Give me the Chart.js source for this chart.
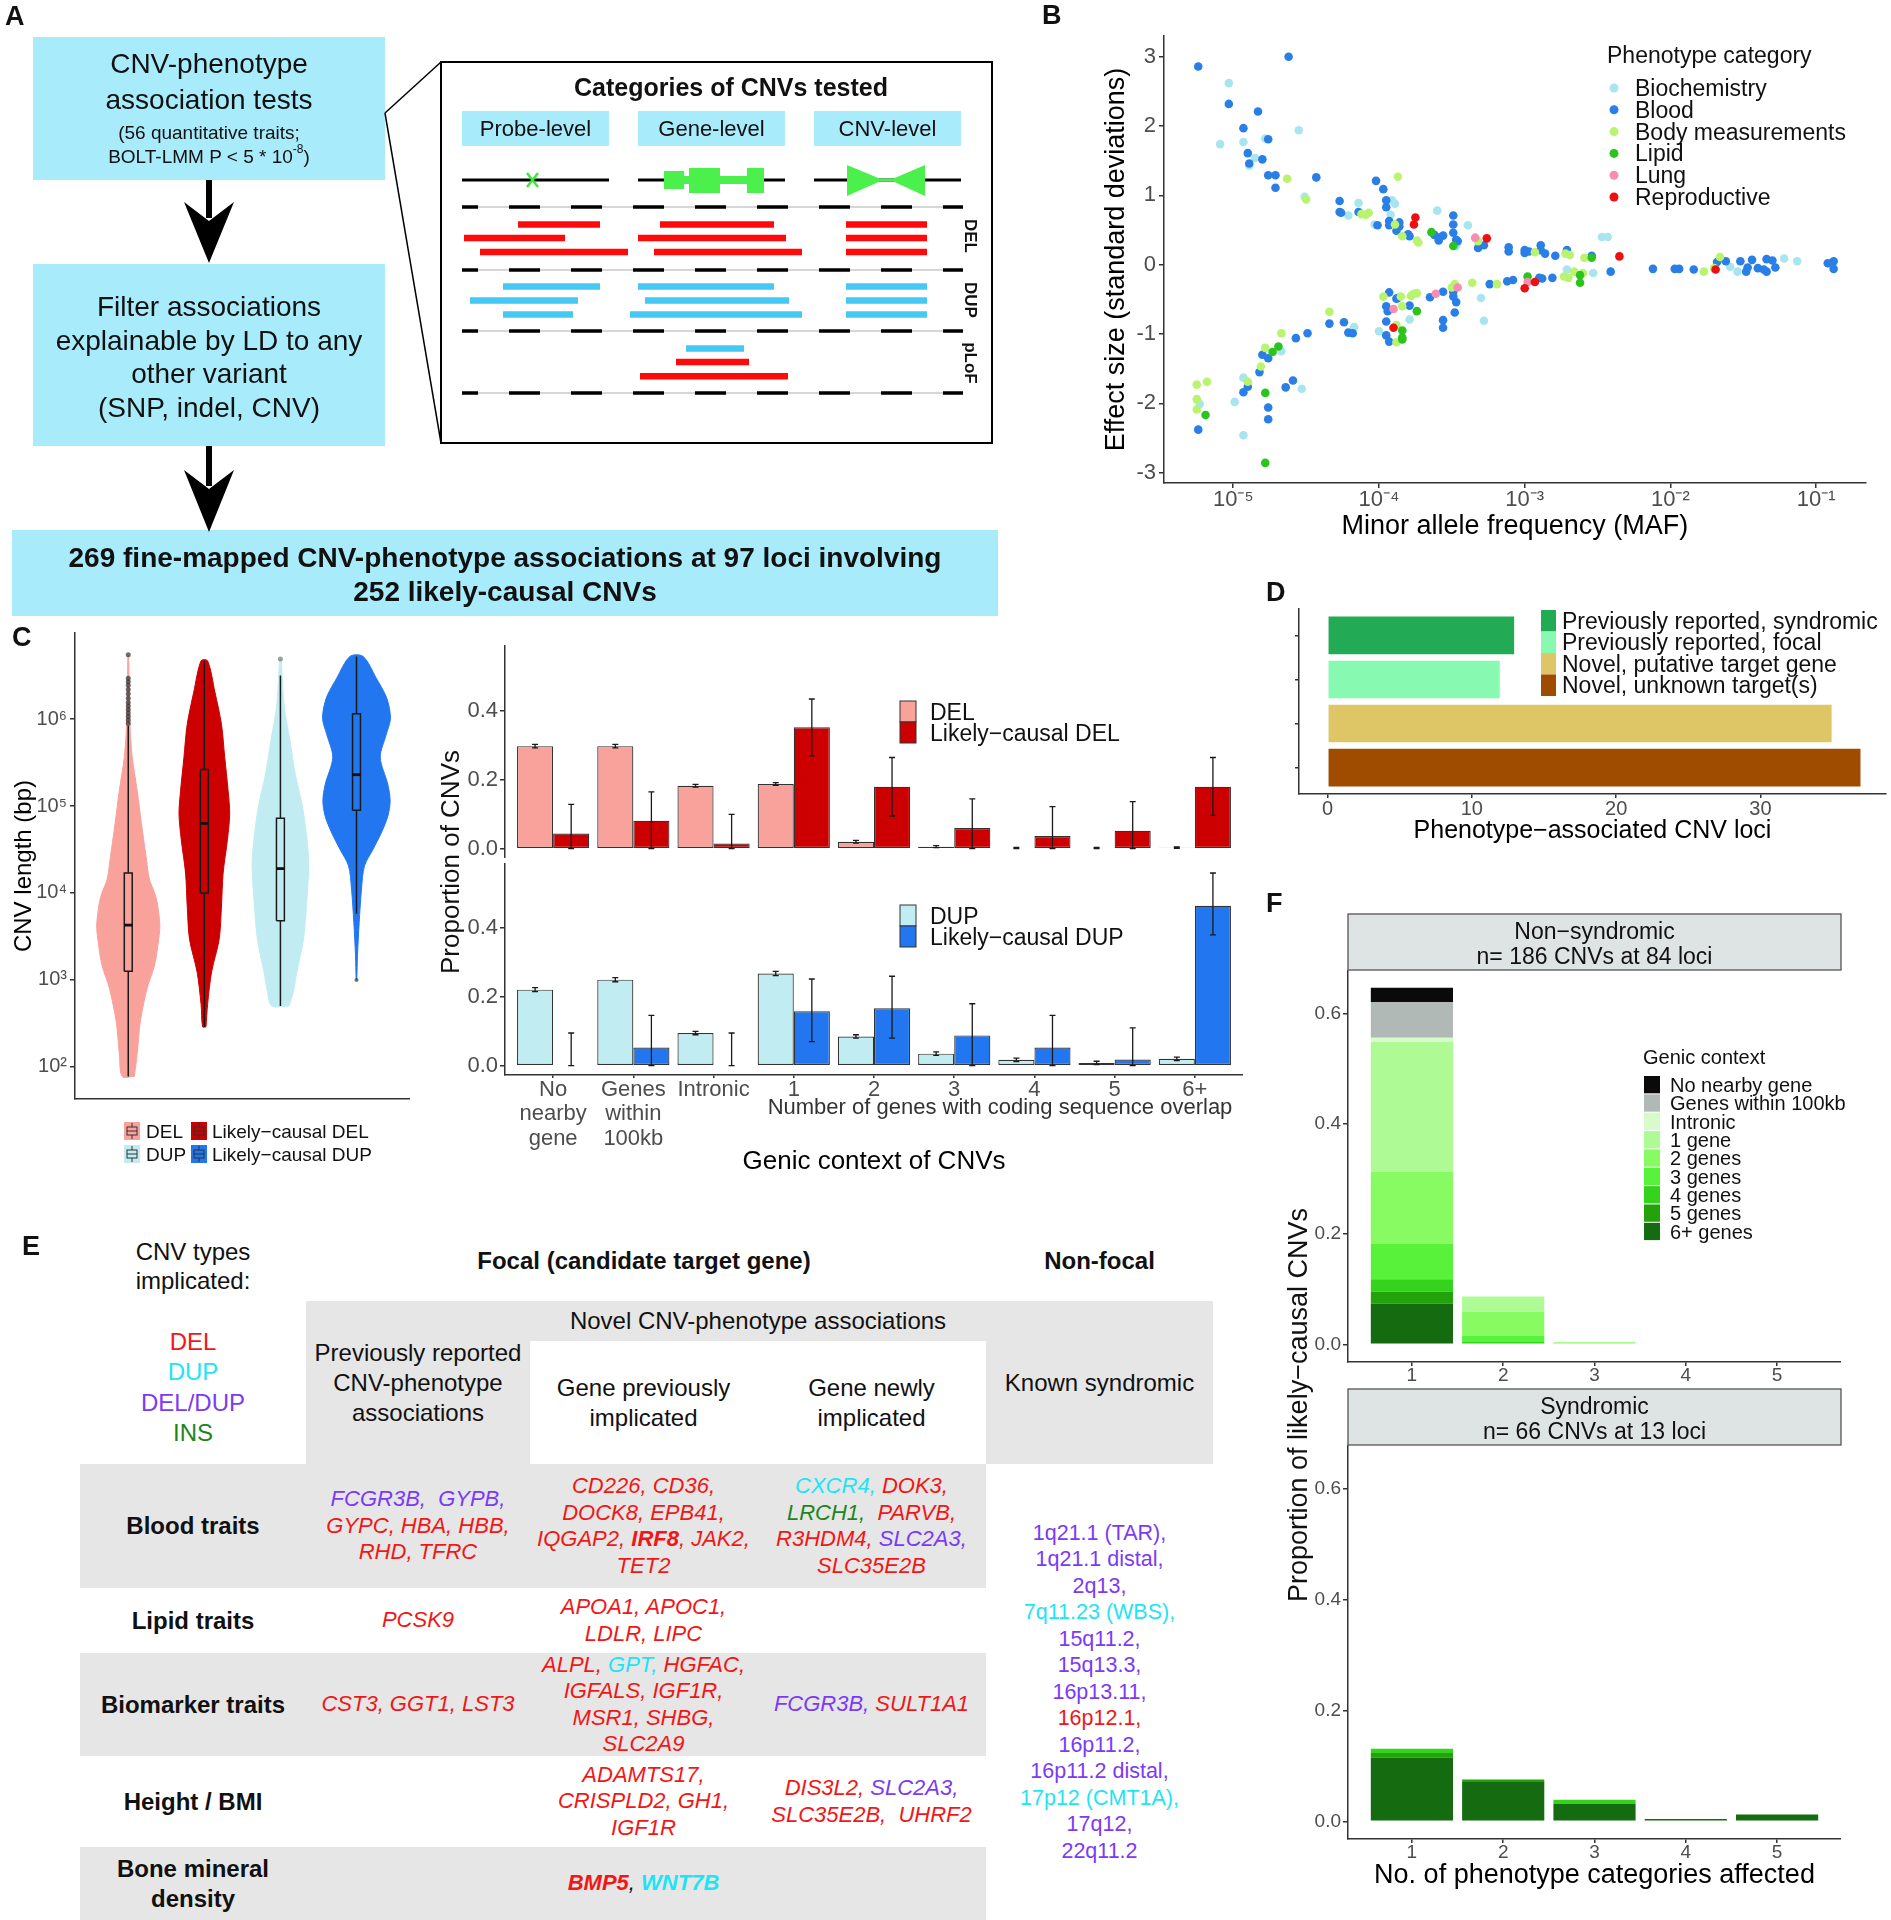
<!DOCTYPE html>
<html lang="en">
<head>
<meta charset="UTF-8">
<title>Fine-mapped CNV-phenotype associations</title>
<script src="https://cdn.jsdelivr.net/npm/chart.js"></script>
<style>
  body { margin: 0; background: #fff; }
  #page { position: relative; width: 1891px; height: 1920px; overflow: hidden;
          font-family: 'Liberation Sans', Arial, Helvetica, sans-serif; color: #111; }
  #page canvas { position: absolute; }
  #overlay { position: absolute; left: 0; top: 0; z-index: 2; }
  .cell { position: absolute; display: flex; align-items: center; justify-content: center;
          text-align: center; white-space: nowrap; }
  .g { background: #E6E6E6; }
  .hdr { font-size: 24px; line-height: 30px; }
  .b { font-weight: bold; }
  .gene { font-size: 22px; line-height: 26.5px; font-style: italic; }
  .syn { font-size: 21.5px; line-height: 26.5px; }
  .del { color: #F21616; } .dup { color: #1EE4F4; } .dd { color: #7B3AF5; } .ins { color: #1C861C; }
</style>
</head>
<body>
<div id="page">
  <!-- panel E table -->
  <div class="cell g" style="left:306px;top:1301px;width:907px;height:40px"></div>
  <div class="cell g" style="left:306px;top:1341px;width:224px;height:123px"></div>
  <div class="cell g" style="left:986px;top:1341px;width:227px;height:123px"></div>
  <div class="cell g" style="left:80px;top:1464px;width:906px;height:124px"></div>
  <div class="cell g" style="left:80px;top:1653px;width:906px;height:103px"></div>
  <div class="cell g" style="left:80px;top:1847px;width:906px;height:73px"></div>

  <div class="cell hdr" style="left:80px;top:1236px;width:226px;height:60px;line-height:29px">CNV types<br>implicated:</div>
  <div class="cell hdr" style="left:80px;top:1327px;width:226px;height:121px;line-height:30.3px"><span><span class="del">DEL</span><br><span class="dup">DUP</span><br><span class="dd">DEL/DUP</span><br><span class="ins">INS</span></span></div>
  <div class="cell hdr b" style="left:344px;top:1241px;width:600px;height:40px">Focal (candidate target gene)</div>
  <div class="cell hdr b" style="left:986px;top:1241px;width:227px;height:40px">Non-focal</div>
  <div class="cell hdr" style="left:306px;top:1301px;width:224px;height:163px">Previously reported<br>CNV-phenotype<br>associations</div>
  <div class="cell hdr" style="left:530px;top:1301px;width:456px;height:40px">Novel CNV-phenotype associations</div>
  <div class="cell hdr" style="left:530px;top:1341px;width:227px;height:123px">Gene previously<br>implicated</div>
  <div class="cell hdr" style="left:757px;top:1341px;width:229px;height:123px">Gene newly<br>implicated</div>
  <div class="cell hdr" style="left:986px;top:1301px;width:227px;height:163px">Known syndromic</div>

  <div class="cell hdr b" style="left:80px;top:1464px;width:226px;height:124px">Blood traits</div>
  <div class="cell gene" style="left:306px;top:1464px;width:224px;height:124px"><span><span class="dd">FCGR3B,&nbsp; GYPB,</span><br><span class="del">GYPC, HBA, HBB,<br>RHD, TFRC</span></span></div>
  <div class="cell gene" style="left:530px;top:1464px;width:227px;height:124px"><span class="del">CD226, CD36,<br>DOCK8, EPB41,<br>IQGAP2, <b>IRF8</b>, JAK2,<br>TET2</span></div>
  <div class="cell gene" style="left:757px;top:1464px;width:229px;height:124px"><span><span class="dup">CXCR4,</span> <span class="del">DOK3,</span><br><span class="ins">LRCH1,</span>&nbsp; <span class="del">PARVB,</span><br><span class="del">R3HDM4,</span> <span class="dd">SLC2A3,</span><br><span class="del">SLC35E2B</span></span></div>

  <div class="cell hdr b" style="left:80px;top:1588px;width:226px;height:65px">Lipid traits</div>
  <div class="cell gene" style="left:306px;top:1588px;width:224px;height:65px"><span class="del">PCSK9</span></div>
  <div class="cell gene" style="left:530px;top:1588px;width:227px;height:65px"><span class="del">APOA1, APOC1,<br>LDLR, LIPC</span></div>

  <div class="cell hdr b" style="left:80px;top:1653px;width:226px;height:103px">Biomarker traits</div>
  <div class="cell gene" style="left:306px;top:1653px;width:224px;height:103px"><span class="del">CST3, GGT1, LST3</span></div>
  <div class="cell gene" style="left:530px;top:1653px;width:227px;height:103px"><span><span class="del">ALPL,</span> <span class="dup">GPT,</span> <span class="del">HGFAC,<br>IGFALS, IGF1R,<br>MSR1, SHBG,<br>SLC2A9</span></span></div>
  <div class="cell gene" style="left:757px;top:1653px;width:229px;height:103px"><span><span class="dd">FCGR3B,</span> <span class="del">SULT1A1</span></span></div>

  <div class="cell hdr b" style="left:80px;top:1756px;width:226px;height:91px">Height / BMI</div>
  <div class="cell gene" style="left:530px;top:1756px;width:227px;height:91px"><span class="del">ADAMTS17,<br>CRISPLD2, GH1,<br>IGF1R</span></div>
  <div class="cell gene" style="left:757px;top:1756px;width:229px;height:91px"><span><span class="del">DIS3L2,</span> <span class="dd">SLC2A3,</span><br><span class="del">SLC35E2B,&nbsp; UHRF2</span></span></div>

  <div class="cell hdr b" style="left:80px;top:1847px;width:226px;height:73px">Bone mineral<br>density</div>
  <div class="cell gene" style="left:530px;top:1847px;width:227px;height:73px"><span><b class="del">BMP5</b>, <b class="dup">WNT7B</b></span></div>

  <div class="cell syn" style="left:986px;top:1464px;width:227px;height:456px"><span>
    <span class="dd">1q21.1 (TAR),</span><br><span class="dd">1q21.1 distal,</span><br><span class="dd">2q13,</span><br>
    <span class="dup">7q11.23 (WBS),</span><br><span class="dd">15q11.2,</span><br><span class="dd">15q13.3,</span><br>
    <span class="dd">16p13.11,</span><br><span class="del">16p12.1,</span><br><span class="dd">16p11.2,</span><br>
    <span class="dd">16p11.2 distal,</span><br><span class="dup">17p12 (CMT1A),</span><br><span class="dd">17q12,</span><br>
    <span class="dd">22q11.2</span></span></div>

  <canvas id="chartB" width="772" height="517" style="left:1098px;top:26px"></canvas>
  <canvas id="chartViolin" width="413" height="480" style="left:0px;top:623px"></canvas>
  <canvas id="chartDel" width="813" height="222" style="left:430px;top:636px"></canvas>
  <canvas id="chartDup" width="813" height="314" style="left:430px;top:863px"></canvas>
  <canvas id="chartD" width="604" height="246" style="left:1285px;top:600px"></canvas>
  <canvas id="chartF1" width="541" height="423" style="left:1300px;top:970px"></canvas>
  <canvas id="chartF2" width="541" height="447" style="left:1300px;top:1445px"></canvas>

  <svg id="overlay" width="1891" height="1920" font-family="'Liberation Sans', Arial, Helvetica, sans-serif">
    <!-- panel A -->
    <rect x="33" y="37" width="352" height="143" fill="#A8EBFB"/>
    <rect x="33" y="264" width="352" height="182" fill="#A8EBFB"/>
    <rect x="12" y="530" width="986" height="86" fill="#A8EBFB"/>
    <g text-anchor="middle" dominant-baseline="central" fill="#111">
      <text x="209" y="63" font-size="28">CNV-phenotype</text>
      <text x="209" y="99" font-size="28">association tests</text>
      <text x="209" y="132" font-size="19">(56 quantitative traits;</text>
      <text x="209" y="156" font-size="19">BOLT-LMM P &lt; 5 * 10<tspan font-size="12" dy="-7">-8</tspan><tspan dy="7">)</tspan></text>
      <text x="209" y="306" font-size="28">Filter associations</text>
      <text x="209" y="340" font-size="28">explainable by LD to any</text>
      <text x="209" y="373" font-size="28">other variant</text>
      <text x="209" y="407" font-size="28">(SNP, indel, CNV)</text>
      <text x="505" y="557" font-size="28" font-weight="bold">269 fine-mapped CNV-phenotype associations at 97 loci involving</text>
      <text x="505" y="591" font-size="28" font-weight="bold">252 likely-causal CNVs</text>
    </g>
    <line x1="209" y1="180" x2="209" y2="218" stroke="#000" stroke-width="6"/>
    <polygon points="209,263 184,202 209,221 234,202" fill="#000"/>
    <line x1="209" y1="446" x2="209" y2="486" stroke="#000" stroke-width="6"/>
    <polygon points="209,532 184,470 209,489 234,470" fill="#000"/>
    <rect x="441" y="62" width="551" height="381" fill="#fff" stroke="#000" stroke-width="2"/>
    <line x1="385" y1="113" x2="441" y2="62" stroke="#000" stroke-width="1.5"/>
    <line x1="385" y1="113" x2="441" y2="443" stroke="#000" stroke-width="1.5"/>
    <g id="insetA"></g>
  </svg>
</div>

<script>
// ---------- panel B: effect size vs MAF ----------
const phenoCats = ['Biochemistry', 'Blood', 'Body measurements', 'Lipid', 'Lung', 'Reproductive'];
const phenoColors = ['#A9E5EF', '#2A7FE6', '#B8F46E', '#2BC41F', '#F78CB4', '#EE1010'];
// [log10 MAF, effect size in SD]
const biochemistry = [[-5.03,2.62],[-4.55,1.94],[-5.09,1.74],[-4.93,1.77],[-4.78,1.82],[-4.85,1.54],[-4.89,1.43],
  [-4.51,0.98],[-4.21,0.71],[-4.14,0.89],[-4.03,0.58],[-3.91,0.93],[-3.89,0.88],[-3.92,0.72],[-3.60,0.78],[-3.39,0.57],
  [-2.47,0.40],[-2.43,0.40],[-2.53,-0.12],[-1.59,-0.03],[-1.54,-0.10],[-1.22,0.09],[-1.13,0.05],[-2.71,-0.07],
  [-3.30,-0.48],[-3.28,-0.81],[-3.79,-0.79],[-4.00,-0.96],[-4.17,-0.90],[-4.67,-1.25],[-4.93,-1.63],[-5.23,-2.01],
  [-4.99,-1.98],[-4.93,-2.46],[-4.53,-1.79],[-3.47,0.27]];
const blood = [[-5.24,2.86],[-4.62,3.00],[-5.03,2.32],[-4.83,2.21],[-4.93,1.97],[-4.76,1.81],[-4.90,1.61],[-4.89,1.46],
  [-4.80,1.52],[-4.76,1.29],[-4.71,1.29],[-4.71,1.11],[-4.43,1.26],[-4.27,0.92],[-4.27,0.76],[-4.26,0.75],[-4.14,0.76],
  [-4.01,0.57],[-4.02,1.21],[-3.97,1.09],[-3.95,0.93],[-3.95,0.83],[-3.93,0.63],[-3.93,0.57],[-3.86,0.61],[-3.86,0.55],
  [-3.88,0.49],[-3.80,0.44],[-3.79,0.41],[-3.62,0.43],[-3.59,0.39],[-3.56,0.42],[-3.59,0.35],[-3.49,0.71],[-3.49,0.58],
  [-3.49,0.46],[-3.47,0.36],[-3.46,0.34],[-3.28,0.28],[-3.32,0.24],[-3.11,0.25],[-3.11,0.19],[-3.00,0.21],[-3.00,0.17],
  [-2.97,0.19],[-2.89,0.28],[-2.89,0.21],[-2.86,0.16],[-2.79,0.13],[-2.71,0.21],[-2.54,0.13],
  [-2.41,-0.10],[-2.12,-0.06],[-1.97,-0.06],[-1.94,-0.06],[-1.84,-0.07],[-1.68,0.04],[-1.62,0.05],[-1.52,0.05],
  [-1.48,-0.10],[-1.47,-0.04],[-1.44,0.07],[-1.34,0.08],[-1.34,-0.10],[-1.30,0.06],[-1.28,-0.04],[-0.92,0.02],
  [-0.88,0.05],[-0.88,-0.06],[-1.40,-0.05],[-1.36,-0.07],
  [-2.81,-0.19],[-2.90,-0.19],[-2.88,-0.20],[-3.08,-0.22],[-3.12,-0.24],[-3.24,-0.28],[-3.49,-0.39],[-3.49,-0.46],
  [-3.47,-0.54],[-3.48,-0.69],[-3.56,-0.39],[-3.56,-0.80],[-3.56,-0.91],[-3.65,-0.47],[-3.79,-0.59],[-3.87,-0.48],
  [-3.88,-0.49],[-3.93,-0.40],[-3.95,-0.60],[-3.94,-0.67],[-3.95,-0.82],[-3.95,-1.02],[-3.93,-1.11],[-4.21,-0.98],
  [-4.18,-0.99],[-4.24,-0.83],[-4.34,-0.85],[-4.49,-0.99],[-4.57,-1.06],[-4.80,-1.30],[-4.76,-1.35],[-4.82,-1.55],
  [-4.90,-1.76],[-4.93,-1.84],[-5.24,-2.38],[-4.76,-2.06],[-4.76,-2.23],[-4.64,-1.77],[-4.59,-1.67]];
const bodyMeasurements = [[-4.63,1.24],[-4.50,0.94],[-4.12,0.73],[-4.07,0.75],[-4.09,0.72],[-3.87,1.27],[-3.89,0.58],
  [-3.84,0.41],[-3.74,0.35],[-3.73,0.32],[-3.32,0.34],[-2.93,0.18],[-2.72,0.16],[-2.69,0.14],[-2.59,0.10],[-1.66,0.11],
  [-1.77,-0.10],[-2.60,-0.12],[-2.66,-0.10],[-2.70,-0.19],[-2.73,-0.17],[-3.19,-0.28],[-3.36,-0.26],[-3.48,-0.28],
  [-3.50,-0.33],[-3.74,-0.41],[-3.76,-0.42],[-3.78,-0.45],[-3.85,-0.46],[-3.84,-0.60],[-3.97,-0.46],[-3.88,-0.87],
  [-3.88,-1.12],[-4.34,-0.68],[-4.67,-0.99],[-4.78,-1.20],[-4.81,-1.47],[-4.90,-1.69],[-5.18,-1.69],[-5.25,-1.73],
  [-5.25,-1.94],[-5.25,-2.09],[-1.70,-0.05]];
const lipid = [[-3.64,0.47],[-3.49,0.27],[-2.54,0.10],[-2.62,-0.15],[-2.62,-0.26],[-2.98,-0.17],[-3.74,-0.67],
  [-3.84,-0.95],[-3.84,-1.05],[-3.84,-1.08],[-4.69,-1.18],[-4.73,-1.26],[-5.19,-2.17],[-4.78,-1.85],[-4.78,-2.86]];
const lung = [[-3.34,0.39],[-2.98,-0.25],[-3.46,-0.33],[-3.61,-0.42],[-3.90,-0.64]];
const reproductive = [[-3.76,0.58],[-3.75,0.68],[-3.26,0.38],[-2.35,0.12],[-1.69,-0.07],[-2.93,-0.25],[-3.00,-0.34],[-3.90,-0.91]];
const effectTicks = [-3, -2, -1, 0, 1, 2, 3];
const mafTicks = [1e-5, 1e-4, 1e-3, 1e-2, 1e-1];

// ---------- panel C: CNV length violins (log10 bp) ----------
const violinGroups = ['DEL', 'Likely\u2212causal DEL', 'DUP', 'Likely\u2212causal DUP'];
const violinColors = ['#F9A19B', '#CC0000', '#C1EDF2', '#2277F0'];
const delLevels = [1.89, 2.15, 2.53, 2.91, 3.17, 3.47, 3.63, 3.89, 4.0, 4.16, 4.42, 4.8, 5.18, 5.56, 5.94, 6.5, 6.73];
const delWidths = [0.08, 0.117, 0.16, 0.25, 0.346, 0.4, 0.415, 0.38, 0.346, 0.277, 0.234, 0.173, 0.117, 0.052, 0.022, 0.009, 0.004];
const lcDelLevels = [2.46, 2.72, 3.09, 3.47, 3.85, 4.23, 4.61, 4.91, 5.18, 5.56, 5.94, 6.31, 6.67];
const lcDelWidths = [0.022, 0.043, 0.095, 0.195, 0.225, 0.247, 0.303, 0.333, 0.312, 0.268, 0.225, 0.139, 0.043];
const dupLevels = [2.70, 2.87, 3.09, 3.47, 3.85, 4.31, 4.61, 4.99, 5.37, 5.75, 6.13, 6.50, 6.69];
const dupWidths = [0.113, 0.173, 0.216, 0.303, 0.342, 0.372, 0.35, 0.29, 0.195, 0.126, 0.052, 0.022, 0.009];
const lcDupLevels = [3.0, 3.28, 3.66, 4.04, 4.31, 4.5, 4.69, 4.88, 5.06, 5.25, 5.56, 5.82, 6.01, 6.24, 6.47, 6.72];
const lcDupWidths = [0.004, 0.013, 0.035, 0.065, 0.104, 0.216, 0.325, 0.411, 0.442, 0.411, 0.312, 0.39, 0.446, 0.398, 0.26, 0.087];
const boxQ1 = [3.10, 4.00, 3.68, 4.95];
const boxMed = [3.63, 4.80, 4.28, 5.36];
const boxQ3 = [4.23, 5.42, 4.86, 6.06];
const whiskLo = [1.89, 2.46, 2.70, 3.76];
const whiskHi = [5.92, 6.67, 6.50, 6.72];
const delOutliers = [5.95, 5.99, 6.03, 6.07, 6.11, 6.15, 6.19, 6.24, 6.29, 6.34, 6.39, 6.43, 6.47, 6.74];
const dupOutliers = [6.69];
const lcDupOutliers = [3.0];
const lengthTicks = [2, 3, 4, 5, 6];

// ---------- panel C: genic context proportions ----------
const contextLabels = [['No', 'nearby', 'gene'], ['Genes', 'within', '100kb'], ['Intronic'], ['1'], ['2'], ['3'], ['4'], ['5'], ['6+']];
const delAll = [0.298, 0.298, 0.183, 0.188, 0.020, 0.006, 0.002, 0.002, 0.003];
const delAllErr = [0.005, 0.005, 0.004, 0.004, 0.004, 0.003, 0.002, 0.002, 0.002];
const delCausal = [0.044, 0.081, 0.015, 0.353, 0.180, 0.060, 0.037, 0.052, 0.180];
const delCausalLo = [0, 0, 0, 0.270, 0.095, 0, 0, 0, 0.097];
const delCausalHi = [0.129, 0.165, 0.100, 0.435, 0.265, 0.145, 0.122, 0.137, 0.265];
const dupAll = [0.221, 0.250, 0.095, 0.268, 0.085, 0.035, 0.017, 0.008, 0.020];
const dupAllErr = [0.006, 0.006, 0.005, 0.006, 0.005, 0.005, 0.005, 0.005, 0.005];
const dupCausal = [0, 0.053, 0, 0.158, 0.167, 0.088, 0.053, 0.018, 0.465];
const dupCausalLo = [0, 0, 0, 0.070, 0.080, 0, 0, 0, 0.380];
const dupCausalHi = [0.095, 0.146, 0.095, 0.252, 0.260, 0.180, 0.146, 0.110, 0.560];
const propTicks = [0, 0.2, 0.4];

// ---------- panel D ----------
const lociClasses = ['Previously reported, syndromic', 'Previously reported, focal', 'Novel, putative target gene', 'Novel, unknown target(s)'];
const lociCounts = [13, 12, 35, 37];
const lociColors = ['#22AA55', '#88F9B1', '#DEC566', '#A04C00'];
const lociTicks = [0, 10, 20, 30];

// ---------- panel F ----------
const genicContexts = ['No nearby gene', 'Genes within 100kb', 'Intronic', '1 gene', '2 genes', '3 genes', '4 genes', '5 genes', '6+ genes'];
const genicColors = ['#0A0A0A', '#B1B9B7', '#D7FBCB', '#AEFB95', '#88FB62', '#58F23A', '#34D41C', '#22A30C', '#156B0F'];
const nCategories = [1, 2, 3, 4, 5];
const nonSyndromic = [
  [0.026, 0, 0, 0, 0],
  [0.065, 0, 0, 0, 0],
  [0.007, 0, 0, 0, 0],
  [0.236, 0.028, 0, 0, 0],
  [0.130, 0.044, 0.004, 0, 0],
  [0.065, 0.010, 0, 0, 0],
  [0.022, 0.005, 0, 0, 0],
  [0.022, 0, 0, 0, 0],
  [0.074, 0, 0, 0, 0]
];
const syndromic = [
  [0, 0, 0, 0, 0],
  [0, 0, 0, 0, 0],
  [0, 0, 0, 0, 0],
  [0, 0, 0, 0, 0],
  [0, 0, 0, 0, 0],
  [0, 0, 0, 0, 0],
  [0.008, 0, 0.008, 0, 0],
  [0.008, 0.0035, 0, 0, 0],
  [0.115, 0.072, 0.031, 0.004, 0.012]
];
const fTicks = [0, 0.2, 0.4, 0.6];

// ---------- shared helpers ----------
const FONT = "'Liberation Sans', Arial, Helvetica, sans-serif";
const GRAY = '#4D4D4D', AXIS = '#333333';
Chart.defaults.font.family = FONT;
Chart.defaults.color = GRAY;
Chart.defaults.animation = false;
Chart.defaults.events = [];
Chart.defaults.plugins.legend.display = false;
Chart.defaults.plugins.tooltip.enabled = false;

function fixTicks(values) { return s => { s.ticks = values.map(v => ({value: v})); }; }
function fitTo(size) {
  return s => {
    if (s.isHorizontal()) s.height = size; else s.width = size;
    s.paddingLeft = s.paddingRight = s.paddingTop = s.paddingBottom = 0;
  };
}
function axis(opts) {
  return Object.assign({
    border: {color: AXIS, width: 1.5},
    grid: {drawOnChartArea: false, color: AXIS, lineWidth: 1.5, tickLength: 5}
  }, opts);
}
const SUP = {'-': '\u207B', '0': '\u2070', '1': '\u00B9', '2': '\u00B2', '3': '\u00B3', '4': '\u2074',
  '5': '\u2075', '6': '\u2076', '7': '\u2077', '8': '\u2078', '9': '\u2079'};
const pow10 = e => '10' + String(e).split('').map(c => SUP[c]).join('');
const base = {responsive: false, devicePixelRatio: 1, maintainAspectRatio: false};

const errorBars = {
  id: 'errorBars',
  afterDatasetsDraw(chart) {
    const {ctx} = chart, y = chart.scales.y;
    chart.data.datasets.forEach((ds, i) => {
      if (!ds.errLo) return;
      const meta = chart.getDatasetMeta(i);
      ctx.save();
      ctx.strokeStyle = '#1a1a1a';
      ctx.lineWidth = 1.3;
      meta.data.forEach((bar, j) => {
        const y1 = y.getPixelForValue(ds.errLo[j]), y2 = y.getPixelForValue(ds.errHi[j]);
        ctx.beginPath();
        ctx.moveTo(bar.x, y1); ctx.lineTo(bar.x, y2);
        ctx.moveTo(bar.x - 3, y1); ctx.lineTo(bar.x + 3, y1);
        ctx.moveTo(bar.x - 3, y2); ctx.lineTo(bar.x + 3, y2);
        ctx.stroke();
      });
      ctx.restore();
    });
  }
};

// ---------- chart B ----------
const phenoData = [biochemistry, blood, bodyMeasurements, lipid, lung, reproductive];
new Chart(document.getElementById('chartB'), {
  type: 'scatter',
  data: {
    datasets: phenoData.map((arr, i) => ({
      label: phenoCats[i],
      data: arr.map(p => ({x: Math.pow(10, p[0]), y: p[1]})),
      backgroundColor: phenoColors[i], pointRadius: 4.3, pointBorderWidth: 0, order: 6 - i
    }))
  },
  options: Object.assign({}, base, {
    layout: {padding: {top: 10, right: 0, bottom: 0, left: 0}},
    scales: {
      x: axis({type: 'logarithmic', min: Math.pow(10, -5.475), max: Math.pow(10, -0.66),
        afterBuildTicks: fixTicks(mafTicks), afterFit: fitTo(60),
        ticks: {font: {size: 22, lineHeight: 1}, padding: 1, color: GRAY, callback: v => pow10(Math.round(Math.log10(v)))},
        title: {display: true, text: 'Minor allele frequency (MAF)', color: '#000', font: {size: 27}, padding: {top: 0, bottom: 0}}}),
      y: axis({type: 'linear', min: -3.15, max: 3.3,
        afterBuildTicks: fixTicks(effectTicks), afterFit: fitTo(66),
        ticks: {font: {size: 22}, padding: 3, color: GRAY},
        title: {display: true, text: 'Effect size (standard deviations)', color: '#000', font: {size: 27}, padding: {top: 2, bottom: 0}}})
    }
  })
});

// ---------- chart C violins ----------
const violinShapes = [[delLevels, delWidths], [lcDelLevels, lcDelWidths], [dupLevels, dupWidths], [lcDupLevels, lcDupWidths]];
const vSets = [];
violinShapes.forEach(([lv, wd], i) => {
  const c = i + 1, col = violinColors[i], bw = 0.052;
  const right = lv.map((l, k) => ({x: c + wd[k], y: l}));
  const left = lv.map((l, k) => ({x: c - wd[k], y: l})).reverse();
  vSets.push({type: 'line', data: right.concat(left, [right[0]]), fill: 'shape', backgroundColor: col,
    borderColor: col, borderWidth: 1, pointRadius: 0, tension: 0.3, order: 10});
  vSets.push({type: 'line', data: [{x: c, y: whiskLo[i]}, {x: c, y: whiskHi[i]}], fill: false,
    borderColor: '#1a1a1a', borderWidth: 1.5, pointRadius: 0, order: 8});
  vSets.push({type: 'line', data: [{x: c - bw, y: boxQ1[i]}, {x: c + bw, y: boxQ1[i]}, {x: c + bw, y: boxQ3[i]},
    {x: c - bw, y: boxQ3[i]}, {x: c - bw, y: boxQ1[i]}], fill: 'shape', backgroundColor: col,
    borderColor: '#1a1a1a', borderWidth: 1.5, pointRadius: 0, tension: 0, order: 6});
  vSets.push({type: 'line', data: [{x: c - bw, y: boxMed[i]}, {x: c + bw, y: boxMed[i]}], fill: false,
    borderColor: '#111', borderWidth: 2.8, pointRadius: 0, order: 4});
});
vSets.push({type: 'scatter', data: delOutliers.map(v => ({x: 1, y: v})), backgroundColor: 'rgba(50,50,50,0.7)', pointRadius: 2.5, pointBorderWidth: 0, order: 2});
vSets.push({type: 'scatter', data: dupOutliers.map(v => ({x: 3, y: v})), backgroundColor: 'rgba(90,90,90,0.55)', pointRadius: 2.5, pointBorderWidth: 0, order: 2});
vSets.push({type: 'scatter', data: lcDupOutliers.map(v => ({x: 4, y: v})), backgroundColor: 'rgba(60,60,60,0.7)', pointRadius: 2, pointBorderWidth: 0, order: 2});
new Chart(document.getElementById('chartViolin'), {
  type: 'scatter',
  data: {datasets: vSets},
  options: Object.assign({}, base, {
    layout: {padding: {top: 10, right: 0, bottom: 0, left: 0}},
    scales: {
      x: {type: 'linear', min: 0.3, max: 4.69, afterFit: fitTo(4),
        border: {color: AXIS, width: 1.5}, grid: {display: false}, ticks: {display: false}},
      y: axis({type: 'linear', min: 1.63, max: 6.99, afterBuildTicks: fixTicks(lengthTicks), afterFit: fitTo(75),
        ticks: {font: {size: 20}, padding: 3, color: GRAY, callback: v => pow10(v)},
        title: {display: true, text: 'CNV length (bp)', color: '#000', font: {size: 24}, padding: {top: 10, bottom: 0}}})
    }
  })
});

// ---------- chart C genic context bars ----------
function contextChart(id, allVals, allErr, causalVals, lo, hi, colors, showX) {
  const xs = contextLabels.map((_, i) => i + 1);
  return new Chart(document.getElementById(id), {
    type: 'bar',
    data: {
      datasets: [
        {data: allVals.map((v, i) => ({x: xs[i], y: v})), backgroundColor: colors[0],
          errLo: allVals.map((v, i) => v - allErr[i]), errHi: allVals.map((v, i) => v + allErr[i])},
        {data: causalVals.map((v, i) => ({x: xs[i], y: v})), backgroundColor: colors[1], errLo: lo, errHi: hi}
      ].map(d => Object.assign(d, {borderColor: '#333', borderWidth: 1.2, borderSkipped: false,
        categoryPercentage: 0.9, barPercentage: 1}))
    },
    options: Object.assign({}, base, {
      layout: {padding: {top: showX ? 0 : 10, right: 0, bottom: 0, left: 0}},
      scales: {
        x: axis({type: 'linear', display: showX, offset: false, min: 0.4, max: 9.6, afterBuildTicks: fixTicks(xs),
          afterFit: fitTo(showX ? 102 : 0),
          grid: {drawOnChartArea: false, offset: false, color: AXIS, lineWidth: 1.5, tickLength: 3},
          ticks: {font: {size: 22, lineHeight: 1.1}, padding: 0, color: GRAY, autoSkip: false, maxRotation: 0,
            callback: v => contextLabels[v - 1]},
          title: {display: true, text: 'Genic context of CNVs', color: '#000', font: {size: 26}, padding: {top: 0, bottom: 0}}}),
        y: axis({type: 'linear', min: -0.027, max: 0.589, afterBuildTicks: fixTicks(propTicks), afterFit: fitTo(75),
          ticks: {font: {size: 22}, padding: 2, color: GRAY, callback: v => v.toFixed(1)}})
      }
    }),
    plugins: [errorBars]
  });
}
contextChart('chartDel', delAll, delAllErr, delCausal, delCausalLo, delCausalHi, [violinColors[0], violinColors[1]], false);
contextChart('chartDup', dupAll, dupAllErr, dupCausal, dupCausalLo, dupCausalHi, [violinColors[2], violinColors[3]], true);

// ---------- chart D ----------
new Chart(document.getElementById('chartD'), {
  type: 'bar',
  data: {
    datasets: [{
      data: lociCounts.map((v, i) => ({x: v, y: i + 1})),
      backgroundColor: lociColors, borderColor: 'rgba(255,255,255,0.9)', borderWidth: 1,
      categoryPercentage: 0.9, barPercentage: 1
    }]
  },
  options: Object.assign({}, base, {
    indexAxis: 'y',
    layout: {padding: {top: 9, right: 3, bottom: 0, left: 0}},
    scales: {
      x: axis({type: 'linear', min: -1.98, max: 38.7, afterBuildTicks: fixTicks(lociTicks), afterFit: fitTo(52),
        grid: {drawOnChartArea: false, color: AXIS, lineWidth: 1.5, tickLength: 4},
        ticks: {font: {size: 20, lineHeight: 1}, padding: 1, color: GRAY},
        title: {display: true, text: 'Phenotype\u2212associated CNV loci', color: '#000', font: {size: 25}, padding: {top: 0, bottom: 0}}}),
      y: axis({type: 'linear', offset: false, min: 0.4, max: 4.6, reverse: true, afterBuildTicks: fixTicks([1, 2, 3, 4]),
        grid: {drawOnChartArea: false, offset: false, color: AXIS, lineWidth: 1.5, tickLength: 4},
        afterFit: fitTo(14), ticks: {display: false}})
    }
  })
});

// ---------- chart F ----------
function facetChart(id, values, xTitle, xH) {
  const order = genicContexts.map((_, i) => i).reverse();
  return new Chart(document.getElementById(id), {
    type: 'bar',
    data: {
      datasets: order.map(k => ({
        label: genicContexts[k],
        data: values[k].map((v, i) => ({x: nCategories[i], y: v})),
        backgroundColor: genicColors[k], borderWidth: 0, categoryPercentage: 0.9, barPercentage: 1
      }))
    },
    options: Object.assign({}, base, {
      layout: {padding: 0},
      scales: {
        x: axis({type: 'linear', stacked: true, offset: false, min: 0.3, max: 5.7, afterBuildTicks: fixTicks(nCategories),
          afterFit: fitTo(xH),
          grid: {drawOnChartArea: false, offset: false, color: AXIS, lineWidth: 1.5, tickLength: 4},
          ticks: {font: {size: 19, lineHeight: 1}, padding: 0, color: GRAY},
          title: {display: !!xTitle, text: xTitle, color: '#000', font: {size: 27}, padding: {top: 0, bottom: 0}}}),
        y: axis({type: 'linear', stacked: true, min: -0.032, max: 0.679, afterBuildTicks: fixTicks(fTicks), afterFit: fitTo(48),
          ticks: {font: {size: 19}, padding: 2, color: GRAY, callback: v => v.toFixed(1)}})
      }
    })
  });
}
facetChart('chartF1', nonSyndromic, '', 31);
facetChart('chartF2', syndromic, 'No. of phenotype categories affected', 53);

// ---------- overlay: panel A inset, letters, legends, strips ----------
const NS = 'http://www.w3.org/2000/svg';
const svg = document.getElementById('overlay');
function el(tag, attrs, text, parent) {
  const e = document.createElementNS(NS, tag);
  for (const k in attrs) e.setAttribute(k, attrs[k]);
  if (text !== undefined) e.textContent = text;
  (parent || svg).appendChild(e);
  return e;
}
function txt(x, y, s, size, o = {}) {
  const a = {x, y, 'font-size': size, 'dominant-baseline': 'central', 'text-anchor': o.anchor || 'start',
    'font-weight': o.weight || 'normal', fill: o.fill || '#111'};
  if (o.rot) a.transform = `rotate(${o.rot} ${x} ${y})`;
  return el('text', a, s, o.parent);
}

// panel A inset (schematic)
const inset = document.getElementById('insetA');
txt(731, 87, 'Categories of CNVs tested', 25, {anchor: 'middle', weight: 'bold', parent: inset});
const insetCols = [['Probe-level', 462], ['Gene-level', 638], ['CNV-level', 814]];
insetCols.forEach(([name, x0]) => {
  el('rect', {x: x0, y: 111, width: 147, height: 35, fill: '#A8EBFB'}, undefined, inset);
  txt(x0 + 73.5, 128, name, 22, {anchor: 'middle', parent: inset});
  el('line', {x1: x0, y1: 180, x2: x0 + 147, y2: 180, stroke: '#000', 'stroke-width': 3}, undefined, inset);
});
el('path', {d: 'M527,173 L538,187 M527,187 L538,173', stroke: '#3CE83C', 'stroke-width': 2.5, fill: 'none'}, undefined, inset);
[[664, 171, 20, 18], [689, 168, 31, 25], [682, 176, 66, 8], [747, 168, 17, 25]].forEach(r =>
  el('rect', {x: r[0], y: r[1], width: r[2], height: r[3], fill: '#4CF04C'}, undefined, inset));
el('line', {x1: 880, y1: 180, x2: 893, y2: 180, stroke: '#4CF04C', 'stroke-width': 3}, undefined, inset);
el('polygon', {points: '847,165 847,196 883,180', fill: '#4CF04C'}, undefined, inset);
el('polygon', {points: '925,165 925,196 890,180', fill: '#4CF04C'}, undefined, inset);
[207, 270, 331, 393].forEach(y => {
  el('line', {x1: 462, y1: y, x2: 963, y2: y, stroke: '#C8C8C8', 'stroke-width': 1.5}, undefined, inset);
  el('line', {x1: 462, y1: y, x2: 963, y2: y, stroke: '#000', 'stroke-width': 3.5, 'stroke-dasharray': '31 31',
    'stroke-dashoffset': 15}, undefined, inset);
});
const RED = '#FF0A0A', BLUE = '#46C8F5';
const insetBars = [
  [518, 600, 224.5, RED], [464, 565, 238, RED], [480, 628, 252, RED],
  [660, 774, 224.5, RED], [638, 786, 238, RED], [654, 802, 252, RED],
  [846, 927, 224.5, RED], [846, 927, 238, RED], [846, 927, 252, RED],
  [503, 600, 286.6, BLUE], [470, 578, 300.4, BLUE], [503, 573, 314.6, BLUE],
  [638, 774, 286.6, BLUE], [645, 789, 300.4, BLUE], [630, 802, 314.6, BLUE],
  [846, 927, 286.6, BLUE], [846, 927, 300.4, BLUE], [846, 927, 314.6, BLUE],
  [686, 744, 348.6, BLUE], [676, 749, 362, RED], [640, 788, 376.3, RED]
];
insetBars.forEach(b => el('line', {x1: b[0], y1: b[2], x2: b[1], y2: b[2], stroke: b[3], 'stroke-width': 6.5}, undefined, inset));
[['DEL', 236], ['DUP', 300], ['pLoF', 363]].forEach(([s, y]) => txt(970, y, s, 17, {anchor: 'middle', weight: 'bold', rot: 90, parent: inset}));

// panel letters
[['A', 5, 16], ['B', 1042, 15], ['C', 12, 637], ['D', 1266, 592], ['E', 22, 1246], ['F', 1266, 903]]
  .forEach(([s, x, y]) => txt(x, y, s, 27, {weight: 'bold'}));

// B legend
txt(1607, 55, 'Phenotype category', 23);
phenoCats.forEach((s, i) => {
  const y = 88 + i * 21.8;
  el('circle', {cx: 1614, cy: y, r: 4.5, fill: phenoColors[i]});
  txt(1635, y, s, 23);
});

// C violin legend
violinGroups.forEach((s, i) => {
  const col = i % 2, row = Math.floor(i / 2);
  const kx = col ? 191 : 124, ky = row ? 1145 : 1122;
  el('rect', {x: kx, y: ky, width: 16, height: 18, fill: violinColors[i]});
  el('rect', {x: kx + 3, y: ky + 5, width: 10, height: 8, fill: 'none', stroke: '#333', 'stroke-width': 1});
  el('path', {d: `M${kx + 8},${ky + 1}V${ky + 5}M${kx + 8},${ky + 13}V${ky + 17}M${kx + 3},${ky + 9}H${kx + 13}`, stroke: '#333', 'stroke-width': 1});
  txt(col ? 212 : 146, ky + 9, s, 19);
});

// C bar legends and titles
[[701, 0], [905, 2]].forEach(([y0, g]) => {
  [0, 1].forEach(k => {
    const y = y0 + k * 21;
    el('rect', {x: 900, y: y, width: 16, height: 21, fill: violinColors[g + k], stroke: '#333', 'stroke-width': 1});
    txt(930, y + 10.5, violinGroups[g + k], 23);
  });
});
txt(450, 862, 'Proportion of CNVs', 26, {anchor: 'middle', rot: -90});
txt(1000, 1106, 'Number of genes with coding sequence overlap', 22, {anchor: 'middle', fill: '#333'});

// D legend
lociClasses.forEach((s, i) => {
  const y = 610 + i * 21.5;
  el('rect', {x: 1541, y: y, width: 15, height: 21.5, fill: lociColors[i]});
  txt(1562, y + 10.5, s, 23);
});

// F strips, legend, y title
[[914, 'Non\u2212syndromic', 'n= 186 CNVs at 84 loci'], [1389, 'Syndromic', 'n= 66 CNVs at 13 loci']].forEach(([y, a, b]) => {
  el('rect', {x: 1348, y: y, width: 493, height: 56, fill: '#DEE3E3', stroke: '#555', 'stroke-width': 1.3});
  txt(1594.5, y + 16.5, a, 23, {anchor: 'middle'});
  txt(1594.5, y + 41.5, b, 23, {anchor: 'middle'});
});
txt(1643, 1057, 'Genic context', 20);
genicContexts.forEach((s, i) => {
  const y = 1076 + i * 18.35;
  el('rect', {x: 1644, y: y, width: 16, height: 17.3, fill: genicColors[i]});
  txt(1670, y + 9, s, 20);
});
txt(1298, 1405, 'Proportion of likely\u2212causal CNVs', 27, {anchor: 'middle', rot: -90});
</script>
</body>
</html>
